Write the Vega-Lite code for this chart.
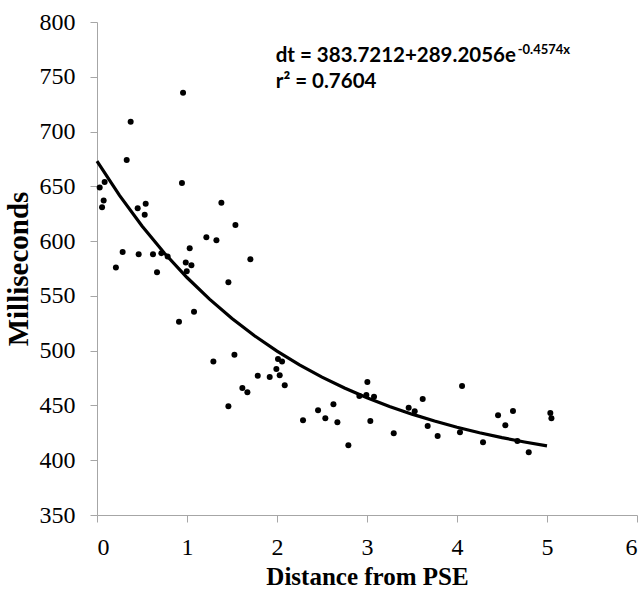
{
  "$schema": "https://vega.github.io/schema/vega-lite/v6.json",
  "width": 540,
  "height": 493,
  "autosize": {"type": "none"},
  "padding": {"left": 97, "top": 22, "right": 7, "bottom": 74},
  "background": "white",
  "config": {"view": {"stroke": null}},
  "datasets": {
    "points": [
      {"d": 0.03, "ms": 649}, {"d": 0.056, "ms": 631}, {"d": 0.074, "ms": 637}, {"d": 0.085, "ms": 654},
      {"d": 0.21, "ms": 576}, {"d": 0.285, "ms": 590}, {"d": 0.33, "ms": 674}, {"d": 0.374, "ms": 709},
      {"d": 0.452, "ms": 630}, {"d": 0.463, "ms": 588}, {"d": 0.53, "ms": 624}, {"d": 0.541, "ms": 634},
      {"d": 0.622, "ms": 588}, {"d": 0.667, "ms": 571.5}, {"d": 0.715, "ms": 589}, {"d": 0.785, "ms": 586},
      {"d": 0.911, "ms": 526.5}, {"d": 0.944, "ms": 653}, {"d": 0.956, "ms": 735.5}, {"d": 0.986, "ms": 580.5},
      {"d": 0.997, "ms": 572.5}, {"d": 1.03, "ms": 593.5}, {"d": 1.049, "ms": 578}, {"d": 1.078, "ms": 535.5},
      {"d": 1.215, "ms": 603.5}, {"d": 1.293, "ms": 490}, {"d": 1.327, "ms": 600.7}, {"d": 1.382, "ms": 635},
      {"d": 1.46, "ms": 562.4}, {"d": 1.46, "ms": 449.2}, {"d": 1.527, "ms": 496.3}, {"d": 1.538, "ms": 614.7},
      {"d": 1.615, "ms": 466}, {"d": 1.671, "ms": 462}, {"d": 1.704, "ms": 583.4}, {"d": 1.786, "ms": 477},
      {"d": 1.919, "ms": 476}, {"d": 1.993, "ms": 483.3}, {"d": 2.011, "ms": 492.4}, {"d": 2.03, "ms": 477.5},
      {"d": 2.056, "ms": 490}, {"d": 2.086, "ms": 468.4}, {"d": 2.289, "ms": 436.4}, {"d": 2.456, "ms": 445.5},
      {"d": 2.537, "ms": 438.2}, {"d": 2.627, "ms": 451}, {"d": 2.671, "ms": 434.6}, {"d": 2.793, "ms": 413.6},
      {"d": 2.915, "ms": 458.6}, {"d": 2.993, "ms": 459.5}, {"d": 3.004, "ms": 471.4}, {"d": 3.037, "ms": 435.8},
      {"d": 3.078, "ms": 458}, {"d": 3.297, "ms": 424.6}, {"d": 3.463, "ms": 447.9}, {"d": 3.53, "ms": 444.6},
      {"d": 3.619, "ms": 455.9}, {"d": 3.674, "ms": 431.2}, {"d": 3.785, "ms": 422}, {"d": 4.033, "ms": 425.5},
      {"d": 4.056, "ms": 467.7}, {"d": 4.289, "ms": 416.4}, {"d": 4.456, "ms": 441}, {"d": 4.537, "ms": 431.9},
      {"d": 4.622, "ms": 445}, {"d": 4.671, "ms": 417.5}, {"d": 4.797, "ms": 407.2}, {"d": 5.037, "ms": 443.1},
      {"d": 5.049, "ms": 438.3}
    ],
    "fit": [
      {"d": 0, "ms": 672.93}, {"d": 0.25, "ms": 641.67}, {"d": 0.5, "ms": 613.8}, {"d": 0.75, "ms": 588.94},
      {"d": 1.0, "ms": 566.77}, {"d": 1.25, "ms": 547.0}, {"d": 1.5, "ms": 529.35}, {"d": 1.75, "ms": 513.61},
      {"d": 2.0, "ms": 499.58}, {"d": 2.25, "ms": 487.06}, {"d": 2.5, "ms": 475.89}, {"d": 2.75, "ms": 465.93},
      {"d": 3.0, "ms": 457.05}, {"d": 3.25, "ms": 449.12}, {"d": 3.5, "ms": 442.06}, {"d": 3.75, "ms": 435.75},
      {"d": 4.0, "ms": 430.13}, {"d": 4.25, "ms": 425.12}, {"d": 4.5, "ms": 420.64}, {"d": 4.75, "ms": 416.65},
      {"d": 5.0, "ms": 413.09}
    ],
    "notes": [
      {"d": 1.986, "ms": 763.7, "label": "dt = 383.7212+289.2056e"},
      {"d": 1.986, "ms": 739.5, "label": "r² = 0.7604"}
    ],
    "sup": [
      {"d": 4.674, "ms": 770.8, "label": "-0.4574x"}
    ]
  },
  "encoding": {
    "x": {
      "field": "d", "type": "quantitative",
      "scale": {"domain": [0, 6], "nice": false, "zero": false},
      "axis": {
        "values": [0, 1, 2, 3, 4, 5, 6], "grid": false, "format": "d",
        "title": "Distance from PSE",
        "labelFont": "Liberation Serif", "labelFontSize": 24, "labelColor": "black",
        "labelPadding": 13, "tickSize": 7, "tickColor": "#a6a6a6", "domainColor": "#a6a6a6",
        "titleFont": "Liberation Serif", "titleFontSize": 25, "titleFontWeight": "bold", "titleColor": "black",
        "titlePadding": 5
      }
    },
    "y": {
      "field": "ms", "type": "quantitative",
      "scale": {"domain": [350, 800], "nice": false, "zero": false},
      "axis": {
        "values": [350, 400, 450, 500, 550, 600, 650, 700, 750, 800], "grid": false,
        "title": "Milliseconds",
        "labelFont": "Liberation Serif", "labelFontSize": 24, "labelColor": "black",
        "labelPadding": 15, "tickSize": 7, "tickColor": "#a6a6a6", "domainColor": "#a6a6a6",
        "titleFont": "Liberation Serif", "titleFontSize": 29, "titleFontWeight": "bold", "titleColor": "black",
        "titlePadding": 6
      }
    }
  },
  "layer": [
    {
      "data": {"name": "points"},
      "mark": {"type": "circle", "size": 36, "color": "black", "opacity": 1}
    },
    {
      "data": {"name": "fit"},
      "mark": {"type": "line", "color": "black", "strokeWidth": 3.2}
    },
    {
      "data": {"name": "notes"},
      "mark": {"type": "text", "align": "left", "baseline": "alphabetic", "font": "Lato", "fontWeight": "bold", "fontSize": 20.5, "color": "black"},
      "encoding": {"text": {"field": "label"}}
    },
    {
      "data": {"name": "sup"},
      "mark": {"type": "text", "align": "left", "baseline": "alphabetic", "font": "Lato", "fontWeight": "bold", "fontSize": 13, "color": "black"},
      "encoding": {"text": {"field": "label"}}
    }
  ]
}
